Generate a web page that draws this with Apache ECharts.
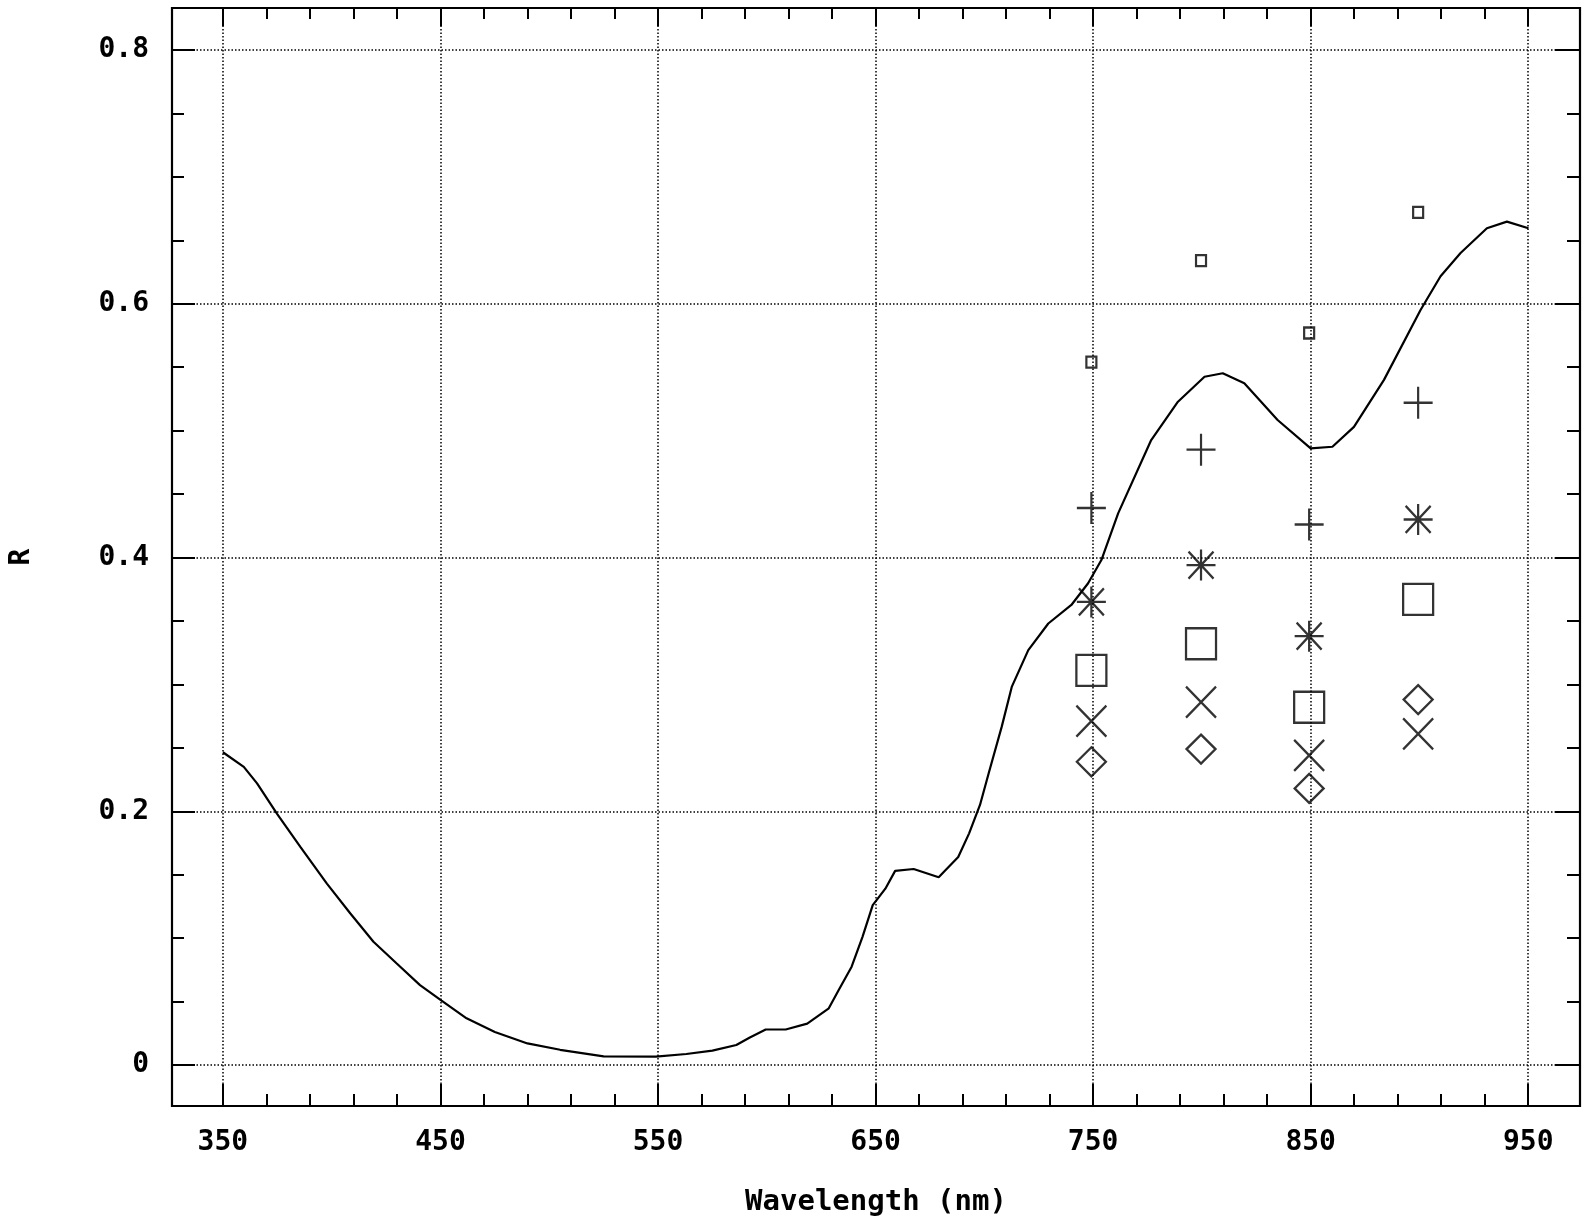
<!DOCTYPE html>
<html>
<head>
<meta charset="utf-8">
<script src="https://cdn.jsdelivr.net/npm/echarts@6/dist/echarts.min.js"></script>
<style>
html,body{margin:0;padding:0;background:#fff;}
#chart{width:1585px;height:1223px;}
</style>
</head>
<body>
<div id="chart"></div>
<script>
// ---- Data ----
const curveWavelength = [350, 359.6, 365.7, 374.9, 385.6, 397.8, 408.5, 419.2, 429.9, 440.6, 450.5, 462, 475, 490, 505, 525, 549, 563, 575, 586, 592, 599.5, 608.7, 618.6, 628.5, 633, 639, 644, 648.7, 654.5, 659, 667.5, 679, 688, 693, 698, 702, 708, 712.6, 720.2, 729.4, 740, 747.7, 753.8, 761.5, 776.7, 789, 801.2, 809.6, 819.5, 834.8, 850, 860, 869.9, 883.7, 900.5, 909.7, 918.9, 931, 940.2, 950.1];
const curveR = [0.2465, 0.235, 0.222, 0.198, 0.172, 0.143, 0.1196, 0.0972, 0.080, 0.063, 0.0507, 0.0368, 0.026, 0.017, 0.012, 0.0068, 0.0066, 0.0087, 0.0113, 0.0158, 0.0215, 0.028, 0.028, 0.0326, 0.0447, 0.059, 0.0775, 0.101, 0.126, 0.139, 0.153, 0.1545, 0.148, 0.164, 0.1826, 0.205, 0.230, 0.2667, 0.298, 0.327, 0.348, 0.3626, 0.3797, 0.398, 0.4348, 0.4926, 0.5228, 0.5425, 0.5452, 0.5373, 0.5084, 0.486, 0.4873, 0.503, 0.540, 0.5951, 0.6217, 0.640, 0.6595, 0.6647, 0.6595];

const markerWavelength = [749.2, 799.6, 849.3, 899.4];
const smallSquareR = [0.554, 0.634, 0.577, 0.672];
const plusR        = [0.439, 0.485, 0.426, 0.522];
const asteriskR    = [0.365, 0.394, 0.338, 0.430];
const bigSquareR   = [0.311, 0.332, 0.282, 0.367];
const crossR       = [0.271, 0.286, 0.244, 0.261];
const diamondR     = [0.239, 0.249, 0.218, 0.288];

const xMajorTicks = [350, 450, 550, 650, 750, 850, 950];
const xMinorTicks = [350,370,390,410,430,450,470,490,510,530,550,570,590,610,630,650,670,690,710,730,750,770,790,810,830,850,870,890,910,930,950];
const yMajorTicks = [0, 0.2, 0.4, 0.6, 0.8];
const yMinorTicks = [0,0.05,0.1,0.15,0.2,0.25,0.3,0.35,0.4,0.45,0.5,0.55,0.6,0.65,0.7,0.75,0.8];
const xRange = [326.6, 973.8];
const yRange = [-0.0323, 0.8331];

// ---- Helpers ----
const FONT = 'DejaVu Sans Mono';
const pairs = (xs, ys) => xs.map((x, i) => [x, ys[i]]);
const dotted = {color: '#000', width: 1.5, type: [1.5, 2]};
const tickStyle = {color: '#000', width: 2};

function xAx(pos, ticks, len, extra) {
  return Object.assign({
    type: 'value', position: pos, min: xRange[0], max: xRange[1],
    axisLine: {show: false, onZero: false},
    axisTick: {show: true, inside: true, length: len, customValues: ticks, lineStyle: tickStyle},
    axisLabel: {show: false},
    splitLine: {show: false}
  }, extra || {});
}
function yAx(pos, ticks, len, extra) {
  return Object.assign({
    type: 'value', position: pos, min: yRange[0], max: yRange[1],
    axisLine: {show: false, onZero: false},
    axisTick: {show: true, inside: true, length: len, customValues: ticks, lineStyle: tickStyle},
    axisLabel: {show: false},
    splitLine: {show: false}
  }, extra || {});
}

const chart = echarts.init(document.getElementById('chart'), null, {renderer: 'canvas'});

const hollow = {color: 'rgba(0,0,0,0)', borderColor: '#000', borderWidth: 2.3};
function scatter(name, ys, symbol, size) {
  return {
    name, type: 'scatter', xAxisIndex: 0, yAxisIndex: 0,
    data: pairs(markerWavelength, ys), symbol, symbolSize: size,
    itemStyle: hollow, silent: true, z: 5
  };
}

const txt = {fontFamily: FONT, fontWeight: 'bold', color: '#000'};

const option = {
  backgroundColor: '#fff',
  animation: false,
  grid: {left: 168, right: 5, top: 8, bottom: 117, show: true, borderColor: '#000', borderWidth: 2.2, backgroundColor: 'transparent'},
  xAxis: [
    xAx('bottom', xMinorTicks, 12, {
      name: 'Wavelength (nm)', nameLocation: 'middle', nameGap: 82,
      nameTextStyle: Object.assign({fontSize: 29}, txt),
      axisLabel: Object.assign({show: true, customValues: xMajorTicks, margin: 23, fontSize: 28}, txt)
    }),
    xAx('bottom', xMajorTicks, 22, {splitLine: {show: true, lineStyle: dotted}}),
    xAx('top', xMinorTicks, 11),
    xAx('top', xMajorTicks, 18)
  ],
  yAxis: [
    yAx('left', yMinorTicks, 12, {
      name: 'R', nameLocation: 'middle', nameGap: 136, nameRotate: 90,
      nameTextStyle: Object.assign({fontSize: 28}, txt),
      axisLabel: Object.assign({show: true, customValues: yMajorTicks, margin: 23, fontSize: 28,
        formatter: v => (Math.round(v * 10) / 10).toString()}, txt)
    }),
    yAx('left', yMajorTicks, 23, {splitLine: {show: true, lineStyle: dotted}}),
    yAx('right', yMinorTicks, 13),
    yAx('right', yMajorTicks, 25)
  ],
  series: [
    {
      name: 'R', type: 'line', xAxisIndex: 0, yAxisIndex: 0,
      data: pairs(curveWavelength, curveR),
      showSymbol: false, symbol: 'none', smooth: false,
      lineStyle: {color: '#000', width: 2.2}, silent: true, z: 4
    },
    scatter('small square', smallSquareR, 'rect', [10, 11]),
    scatter('plus', plusR, 'path://M0,16L29,16M14.5,0L14.5,32', [29, 32]),
    scatter('asterisk', asteriskR, 'path://M0,15.5L29,15.5M14.5,0L14.5,31M2,2L27,29M27,2L2,29', [29, 31]),
    scatter('big square', bigSquareR, 'rect', [30, 31]),
    scatter('cross', crossR, 'path://M0,0L30,31M30,0L0,31', [30, 31]),
    scatter('diamond', diamondR, 'diamond', [29, 29])
  ]
};
chart.setOption(option);
</script>
</body>
</html>
